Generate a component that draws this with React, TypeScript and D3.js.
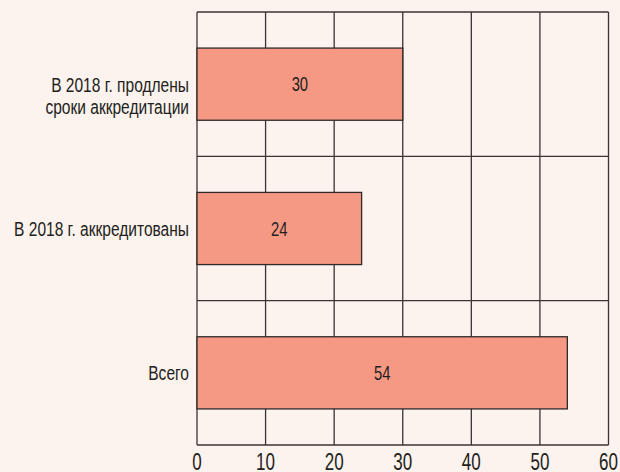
import React from "react";
import * as d3 from "d3";

const categories: string[][] = [
  ["В 2018 г. продлены", "сроки аккредитации"],
  ["В 2018 г. аккредитованы"],
  ["Всего"],
];
const values: number[] = [30, 24, 54];
const xTicks: number[] = [0, 10, 20, 30, 40, 50, 60];

const W = 620;
const H = 472;
const left = 197;
const right = 608.5;
const top = 12;
const bottom = 445;
const SX = 0.74;
const FONT = "'Liberation Sans', Arial, sans-serif";

function NarrowText(props: { x: number; y: number; size: number; anchor: string; children: React.ReactNode; dy?: string }) {
  return (
    <g transform={`translate(${props.x},${props.y}) scale(${SX},1)`}>
      <text x={0} y={0} dy={props.dy} textAnchor={props.anchor} fontSize={props.size} fill="#231f20">
        {props.children}
      </text>
    </g>
  );
}

export default function App() {
  const x = d3.scaleLinear().domain([0, 60]).range([left, right]);
  const y = d3
    .scaleBand<number>()
    .domain(values.map((_, i) => i))
    .range([top, bottom])
    .paddingInner(0.5)
    .paddingOuter(0.25);
  const step = y.step();
  const bands = d3.range(values.length + 1).map((i) => top + i * step);

  return (
    <svg
      width={W}
      height={H}
      style={{ position: "absolute", left: 0, top: 0, background: "#fcf2ee" }}
      fontFamily={FONT}
    >
      <rect x={0} y={0} width={W} height={H} fill="#fcf2ee" />
      {xTicks.map((t) => (
        <line key={"g" + t} x1={x(t)} x2={x(t)} y1={top} y2={bottom} stroke="#3a3434" strokeWidth={1.3} />
      ))}
      {bands.map((b, i) => (
        <line key={"h" + i} x1={left} x2={right} y1={b} y2={b} stroke="#3a3434" strokeWidth={1.3} />
      ))}
      {values.map((v, i) => {
        const cy = (y(i) as number) + y.bandwidth() / 2;
        return (
          <g key={"b" + i}>
            <rect
              x={x(0)}
              y={y(i)}
              width={x(v) - x(0)}
              height={y.bandwidth()}
              fill="#f59884"
              stroke="#2e2a2a"
              strokeWidth={1.3}
            />
            <NarrowText x={(x(0) + x(v)) / 2} y={cy} dy="0.36em" anchor="middle" size={20}>
              {v}
            </NarrowText>
            {categories[i].map((line, j) => (
              <NarrowText key={j} x={189} y={cy + j * 22} dy="0.36em" anchor="end" size={21}>
                {line}
              </NarrowText>
            ))}
          </g>
        );
      })}
      {xTicks.map((t) => (
        <NarrowText key={"t" + t} x={x(t)} y={470} anchor="middle" size={23}>
          {t}
        </NarrowText>
      ))}
    </svg>
  );
}
